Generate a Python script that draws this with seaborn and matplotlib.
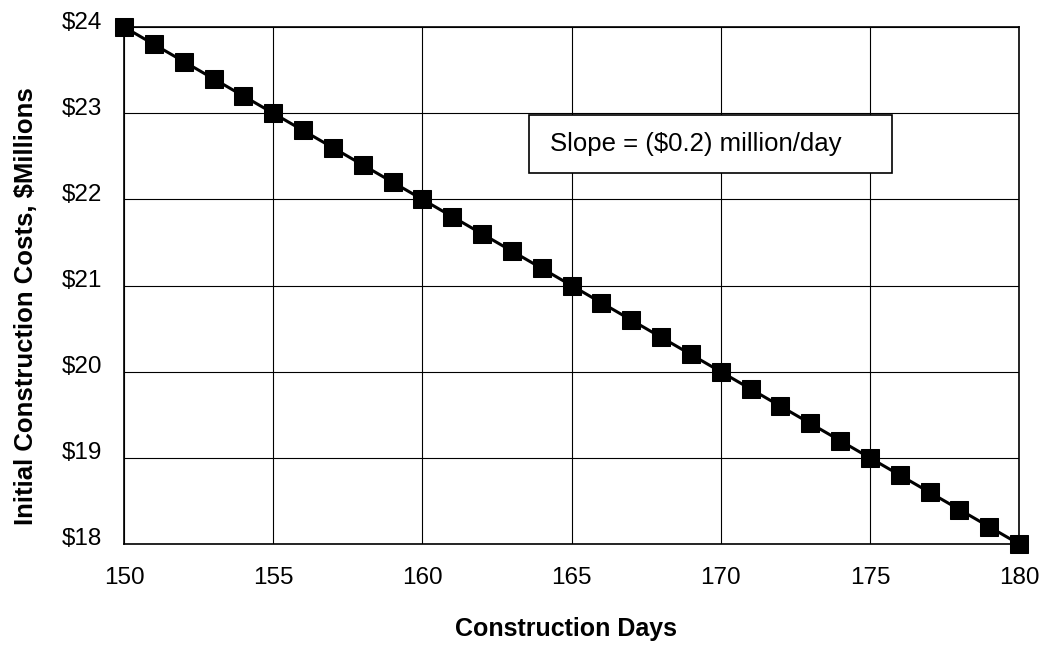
import matplotlib
matplotlib.use("Agg")
import matplotlib.pyplot as plt
import matplotlib.transforms as mtransforms
from matplotlib.patches import Rectangle
import seaborn as sns
import pandas as pd
from matplotlib.ticker import FuncFormatter

# Construction schedule vs. initial cost
days = [150, 151, 152, 153, 154, 155, 156, 157, 158, 159, 160,
        161, 162, 163, 164, 165, 166, 167, 168, 169, 170,
        171, 172, 173, 174, 175, 176, 177, 178, 179, 180]
costs = [24.0, 23.8, 23.6, 23.4, 23.2, 23.0, 22.8, 22.6, 22.4, 22.2, 22.0,
         21.8, 21.6, 21.4, 21.2, 21.0, 20.8, 20.6, 20.4, 20.2, 20.0,
         19.8, 19.6, 19.4, 19.2, 19.0, 18.8, 18.6, 18.4, 18.2, 18.0]
x_ticks = [150, 155, 160, 165, 170, 175, 180]
y_ticks = [18, 19, 20, 21, 22, 23, 24]
slope_text = "Slope = ($0.2) million/day"

sns.set_theme(style="white")
plt.rcParams["font.family"] = ["Liberation Sans", "DejaVu Sans"]
plt.rcParams.update({"text.color": "black", "axes.labelcolor": "black",
                     "xtick.color": "black", "ytick.color": "black"})

df = pd.DataFrame({"days": days, "cost": costs})

fig = plt.figure(figsize=(10.44, 6.46), dpi=100)
ax = fig.add_axes([0.1188, 0.1579, 0.8573, 0.8002])

sns.lineplot(data=df, x="days", y="cost", ax=ax, color="black",
             linewidth=2.2, marker="s", markersize=13,
             markeredgecolor="black", markerfacecolor="black",
             zorder=3, clip_on=False)

ax.set_xlim(150, 180)
ax.set_ylim(18, 24)
ax.set_xticks(x_ticks)
ax.set_yticks(y_ticks)
ax.yaxis.set_major_formatter(FuncFormatter(lambda v, p: f"${v:.0f}"))
ax.grid(True, color="black", linewidth=0.8)
for s in ax.spines.values():
    s.set_color("black")
    s.set_linewidth(1.2)
ax.tick_params(axis="both", which="major", direction="out", length=3.6,
               width=0.8, color="black", labelsize=17.5)
ax.tick_params(axis="x", pad=13)
ax.tick_params(axis="y", pad=12)

# y tick labels sit slightly above their gridlines
shift = mtransforms.ScaledTranslation(0, 0.07, fig.dpi_scale_trans)
for tick in ax.yaxis.get_major_ticks():
    tick.label1.set_transform(tick.label1.get_transform() + shift)

ax.set_xlabel("Construction Days", fontsize=18, fontweight="bold")
ax.xaxis.set_label_coords(0.494, -0.178)
ax.xaxis.label.set_verticalalignment("baseline")
ax.set_ylabel("Initial Construction Costs, $Millions", fontsize=18.5,
              fontweight="bold")
ax.yaxis.set_label_coords(-0.096, 0.46)

# annotation box
ax.add_patch(Rectangle((0.4525, 0.7176), 0.4055, 0.1122, transform=ax.transAxes,
                       facecolor="white", edgecolor="black", linewidth=1.2,
                       zorder=4))
ax.text(0.476, 0.7737, slope_text, transform=ax.transAxes, fontsize=18.5,
        va="center", ha="left", zorder=5)

fig.savefig("out.png", dpi=100)
